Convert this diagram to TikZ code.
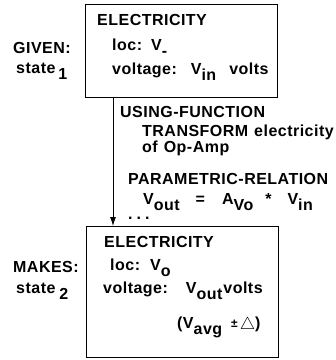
\documentclass[tikz,border=0pt]{standalone}
\usepackage{fontspec}
\setmainfont{Liberation Sans}[LetterSpace=3]
\usetikzlibrary{arrows.meta, positioning}

\newcommand{\lowsub}[1]{\raisebox{-6pt}{#1}}
\newcommand{\plusdash}{{\fontsize{12}{12}\selectfont\raisebox{1pt}{±}\hspace{2pt}}}

\begin{document}
\begin{tikzpicture}[x=1pt, y=-1pt,
                    box/.style={draw, line width=0.9pt, anchor=north west, inner sep=0, minimum width=192pt},
                    txt/.style={font=\bfseries\fontsize{16}{18}\selectfont, inner sep=0, anchor=base west},
                    arrow/.style={-{Latex[length=9pt, width=6pt]}, line width=0.8pt}
                ]
                \useasboundingbox (0,0) rectangle (336,360);

                % --- given state ---
                \node[box, minimum height=93pt] (given) at (85,4) {};
                \node[txt] (elec1) at (97,25) {ELECTRICITY};
                \node[txt] (loc1) at (112,50) {loc:\hspace{9pt}V\lowsub{-}};
                \node[txt] (volt1) at (112,74) {voltage:\hspace{14pt}V\lowsub{in}\hspace{13pt}volts};
                \node[txt] (given_lbl) at (13,53) {GIVEN:};
                \node[txt] (state1) at (16,73) {state\hspace{3pt}\lowsub{1}};

                % --- function and relation ---
                \node[txt] (usefn) at (120,117) {USING-FUNCTION};
                \node[txt] (transf) at (142,136) {TRANSFORM\hspace{6pt}electricity};
                \node[txt] (opamp) at (142,152) {of\hspace{6pt}Op-Amp};
                \node[txt] (param) at (128,184) {PARAMETRIC-RELATION};
                \node[txt] (eqn) at (143,204) {V\lowsub{out}\hspace{16pt}=\hspace{17pt}A\lowsub{Vo}\hspace{12pt}*\hspace{16pt}V\lowsub{in}};
                \node[txt] (dots) at (128,219) {.\hspace{4pt}.\hspace{4pt}.};

                % --- resulting state ---
                \node[box, minimum height=131pt] (makes) at (86,226) {};
                \node[txt] (elec2) at (104,247) {ELECTRICITY};
                \node[txt] (loc2) at (110,270) {loc:\hspace{10pt}V\lowsub{o}};
                \node[txt] (volt2) at (103,293) {voltage:\hspace{18pt}V\lowsub{out}\hspace{1pt}volts};
                \node[txt] (avg) at (177,328) {(V\lowsub{avg}\hspace{9pt}\plusdash\raisebox{-1pt}{\fontsize{19}{19}\selectfont$\triangle$})};
                \node[txt] (makes_lbl) at (13,272) {MAKES:};
                \node[txt] (state2) at (16,293) {state\hspace{4pt}\lowsub{2}};

                \draw[arrow] ([xshift=28pt]given.south west) -- ([xshift=27pt]makes.north west);

\end{tikzpicture}
\end{document}
